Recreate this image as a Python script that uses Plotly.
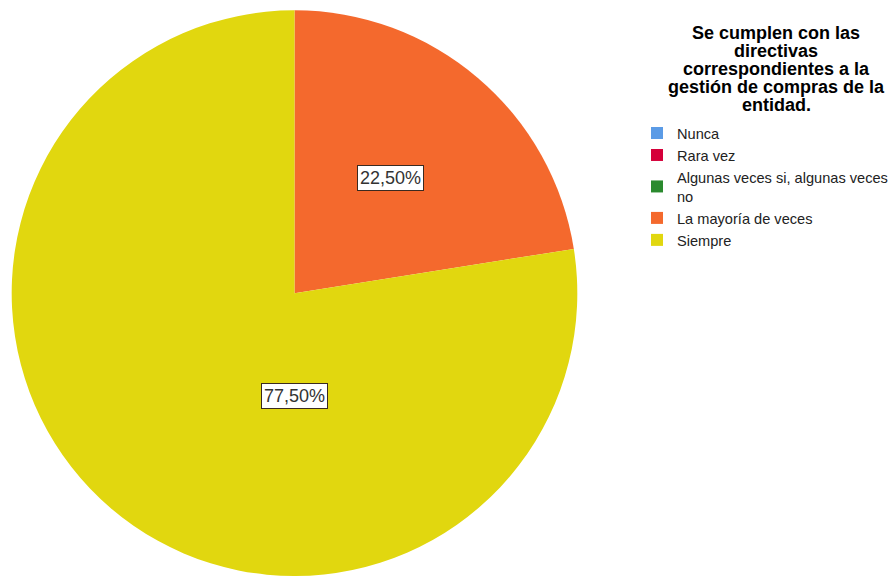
import plotly.graph_objects as go

# Survey answers and their share of responses (%)
categories = ["Nunca", "Rara vez", "Algunas veces si, algunas veces<br>no",
              "La mayoría de veces", "Siempre"]
shares = [0.0, 0.0, 0.0, 22.5, 77.5]
colors = ["#5B9BE6", "#D5003A", "#2A8A2E", "#F4692D", "#E1D70F"]

title_lines = ["Se cumplen con las", "directivas", "correspondientes a la",
               "gestión de compras de la", "entidad."]

# Percentage labels drawn in boxes, with their positions in paper space
label_pos = {"La mayoría de veces": (390 / 895, 1 - 178 / 576),
             "Siempre": (294 / 895, 1 - 396 / 576)}

fig = go.Figure(go.Pie(
    labels=categories,
    values=shares,
    marker=dict(colors=colors, line=dict(width=0)),
    sort=False,
    direction="clockwise",
    rotation=0,
    textinfo="none",
    hoverinfo="label+percent",
    domain=dict(x=[11.5 / 895, 577.5 / 895], y=[0.0, 0.982]),
))

annotations = []
for name, val in zip(categories, shares):
    if name in label_pos:
        x, y = label_pos[name]
        annotations.append(dict(
            x=x, y=y, xref="paper", yref="paper", showarrow=False,
            xanchor="center", yanchor="middle",
            text=f"{val:.2f}%".replace(".", ","),
            font=dict(family="Liberation Sans, Arial", size=18, color="#333333"),
            bgcolor="white", bordercolor="#3a2a20", borderwidth=1, borderpad=2,
        ))

# Legend heading, one line per annotation for tight line spacing
for i, line in enumerate(title_lines):
    annotations.append(dict(
        x=776 / 895, y=1 - (33 + 18 * i) / 576, xref="paper", yref="paper",
        showarrow=False, xanchor="center", yanchor="middle",
        text=f"<b>{line}</b>",
        font=dict(family="Liberation Sans, Arial", size=18, color="#000000"),
    ))

fig.update_layout(
    width=895, height=576, autosize=False,
    margin=dict(l=0, r=0, t=0, b=0, autoexpand=False),
    paper_bgcolor="white",
    showlegend=True,
    legend=dict(
        x=637 / 895, y=1 - 117 / 576, xanchor="left", yanchor="top",
        font=dict(family="Liberation Sans, Arial", size=14.6, color="#222222"),
        tracegroupgap=0, itemwidth=30,
        bgcolor="rgba(0,0,0,0)",
    ),
    annotations=annotations,
)

fig.write_html("out.html", config={"responsive": False})
